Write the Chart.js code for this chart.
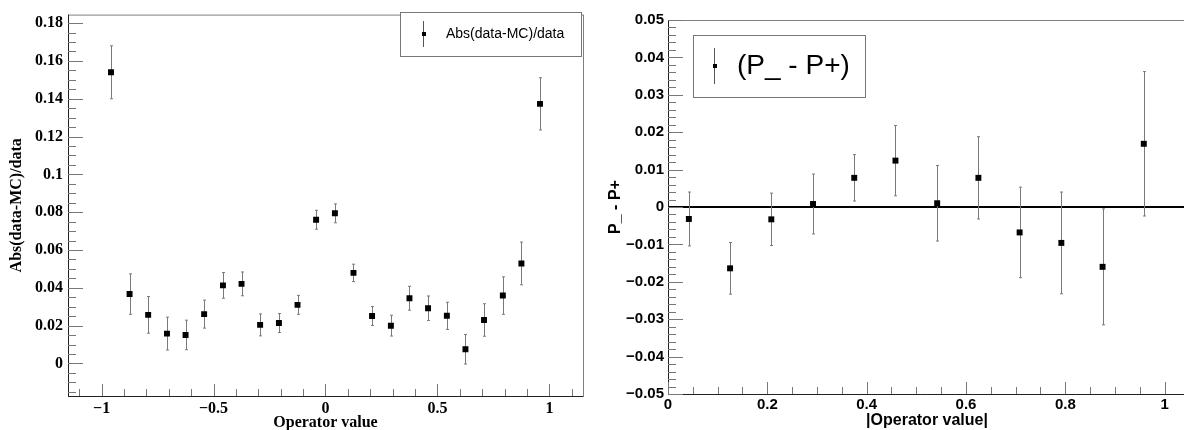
<!DOCTYPE html>
<html>
<head>
<meta charset="utf-8">
<script src="https://cdn.jsdelivr.net/npm/chart.js@4.4.1/dist/chart.umd.min.js"></script>
<style>
html, body { margin: 0; padding: 0; background: #fff; overflow: hidden; width: 1184px; height: 430px; }
#leftChart { position: absolute; left: 0; top: 0; }
#rightChart { position: absolute; left: 595px; top: 0; }
</style>
</head>
<body>
<canvas id="leftChart" width="590" height="430"></canvas>
<canvas id="rightChart" width="600" height="430"></canvas>
<script>
// left panel: Abs(data-MC)/data vs operator value
var opValues = [-0.958, -0.875, -0.792, -0.708, -0.625, -0.542, -0.458, -0.375, -0.292, -0.208, -0.125, -0.042,
                0.042, 0.125, 0.208, 0.292, 0.375, 0.458, 0.542, 0.625, 0.708, 0.792, 0.875, 0.958];
var absDiff = [0.154, 0.0367, 0.0257, 0.0158, 0.0151, 0.0261, 0.0413, 0.0421, 0.0204, 0.0214, 0.031, 0.0760,
               0.0794, 0.0479, 0.0251, 0.0200, 0.0345, 0.0292, 0.0252, 0.0075, 0.0230, 0.0359, 0.0529, 0.1373];
var absDiffErr = [0.014, 0.0107, 0.0097, 0.0087, 0.0078, 0.0074, 0.0068, 0.0063, 0.0058, 0.005, 0.005, 0.005,
                  0.005, 0.0046, 0.005, 0.0055, 0.0063, 0.0065, 0.0072, 0.0078, 0.0086, 0.0099, 0.0113, 0.0138];

// right panel: P_ - P+ vs |operator value|
var absOpValues = [0.042, 0.125, 0.208, 0.292, 0.375, 0.458, 0.542, 0.625, 0.708, 0.792, 0.875, 0.958];
var pDiff = [-0.0032, -0.0164, -0.0033, 0.0008, 0.0078, 0.0124, 0.0010, 0.0078, -0.0068, -0.0096, -0.0160, 0.0169];
var pDiffErr = [0.0072, 0.0069, 0.0070, 0.0080, 0.0062, 0.0094, 0.0101, 0.0110, 0.0121, 0.0136, 0.0155, 0.0193];

var leftXRange = [-1.15, 1.15], leftYRange = [-0.0172, 0.1845];
var rightXRange = [0, 1.043], rightYRange = [-0.05, 0.05];

var SERIF = '"Liberation Serif", "Times New Roman", serif';
var SANS = '"Liberation Sans", Arial, Helvetica, sans-serif';

function rootLabel(v) {
    var r = Math.round(v * 1e6) / 1e6;
    return r < 0 ? '\u2212' + String(-r) : String(r);
}

function points(xs, ys) {
    return xs.map(function (x, i) { return {x: x, y: ys[i]}; });
}

// ROOT-like decorations: inner ticks, frame, error bars, zero line, legend box
var rootStyle = {
    id: 'rootStyle',
    beforeDatasetsDraw: function (chart, args, o) {
        var ctx = chart.ctx, a = chart.chartArea, xs = chart.scales.x, ys = chart.scales.y;
        ctx.save();
        if (o.zeroLine) {
            var zy = Math.round(ys.getPixelForValue(0));
            ctx.strokeStyle = '#000';
            ctx.lineWidth = 2;
            ctx.beginPath();
            ctx.moveTo(a.left, zy);
            ctx.lineTo(a.right, zy);
            ctx.stroke();
        }
        chart.data.datasets.forEach(function (ds) {
            if (!ds.errors) return;
            ctx.strokeStyle = '#7a7a7a';
            ctx.lineWidth = 1;
            ds.data.forEach(function (p, i) {
                var px = Math.round(xs.getPixelForValue(p.x)) + 0.5;
                var top = ys.getPixelForValue(p.y + ds.errors[i]);
                var bot = ys.getPixelForValue(p.y - ds.errors[i]);
                ctx.beginPath();
                ctx.moveTo(px, top); ctx.lineTo(px, bot);
                ctx.moveTo(px - 1.5, top); ctx.lineTo(px + 1.5, top);
                ctx.moveTo(px - 1.5, bot); ctx.lineTo(px + 1.5, bot);
                ctx.stroke();
            });
        });
        ctx.restore();
    },
    afterDraw: function (chart, args, o) {
        var ctx = chart.ctx, a = chart.chartArea, xs = chart.scales.x, ys = chart.scales.y;
        ctx.save();
        // frame
        ctx.strokeStyle = '#808080';
        ctx.lineWidth = 1;
        ctx.strokeRect(a.left + 0.5, a.top + 0.5, a.right - a.left, a.bottom - a.top);
        ctx.strokeStyle = '#222';
        ctx.beginPath();
        ctx.moveTo(a.left + 0.5, a.top);
        ctx.lineTo(a.left + 0.5, a.bottom + 0.5);
        ctx.lineTo(a.right, a.bottom + 0.5);
        ctx.stroke();
        // ticks
        ctx.strokeStyle = '#777';
        function ticks(scale, major, minor, horiz) {
            var v = Math.ceil(scale.min / minor - 1e-6) * minor;
            for (; v <= scale.max + 1e-9; v += minor) {
                var isMajor = Math.abs(v / major - Math.round(v / major)) < 1e-6;
                var p = Math.round(scale.getPixelForValue(v)) + 0.5;
                ctx.beginPath();
                if (horiz) {
                    var len = isMajor ? 12 : 7;
                    ctx.moveTo(p, a.bottom); ctx.lineTo(p, a.bottom - len);
                } else {
                    var lenY = isMajor ? 15 : 8;
                    ctx.moveTo(a.left, p); ctx.lineTo(a.left + lenY, p);
                }
                ctx.stroke();
            }
        }
        ticks(xs, o.xTicks[0], o.xTicks[1], true);
        ticks(ys, o.yTicks[0], o.yTicks[1], false);
        // legend box
        var L = o.legend;
        ctx.fillStyle = '#fff';
        ctx.fillRect(L.x, L.y, L.w, L.h);
        ctx.strokeStyle = '#777';
        ctx.strokeRect(L.x + 0.5, L.y + 0.5, L.w, L.h);
        ctx.strokeStyle = '#555';
        ctx.beginPath();
        ctx.moveTo(L.mx + 0.5, L.my - L.bar);
        ctx.lineTo(L.mx + 0.5, L.my + L.bar);
        ctx.stroke();
        ctx.fillStyle = '#000';
        ctx.fillRect(L.mx - 1, L.my - 2, 4, 4);
        ctx.font = L.size + 'px ' + SANS;
        ctx.textBaseline = 'middle';
        ctx.fillText(L.text, L.tx, L.my);
        ctx.restore();
    }
};

Chart.defaults.color = '#000';

function makeChart(id, xs, ys, errs, cfg) {
    var ctx = document.getElementById(id).getContext('2d');
    return new Chart(ctx, {
        type: 'scatter',
        data: {
            datasets: [{
                data: points(xs, ys),
                errors: errs,
                pointStyle: 'rect',
                pointRadius: 4.2,
                pointHoverRadius: 4.2,
                backgroundColor: '#000',
                borderWidth: 0
            }]
        },
        options: {
            responsive: false,
            animation: false,
            events: [],
            layout: {padding: {top: cfg.padTop, right: cfg.padRight, left: 0, bottom: 0}},
            plugins: {
                legend: {display: false},
                tooltip: {enabled: false},
                rootStyle: cfg.deco
            },
            scales: {
                x: {
                    type: 'linear',
                    min: cfg.xRange[0], max: cfg.xRange[1],
                    grid: {display: false, drawTicks: false},
                    border: {display: false},
                    afterFit: function (s) { s.height = cfg.xHeight; },
                    ticks: {
                        stepSize: cfg.xStep, includeBounds: false, autoSkip: false, maxRotation: 0,
                        padding: cfg.xPad, font: cfg.tickFont, callback: rootLabel
                    },
                    title: {display: true, text: cfg.xTitle, font: cfg.xTitleFont, padding: {top: 0, bottom: cfg.xTitlePad}}
                },
                y: {
                    type: 'linear',
                    min: cfg.yRange[0], max: cfg.yRange[1],
                    grid: {display: false, drawTicks: false},
                    border: {display: false},
                    afterFit: function (s) { s.width = cfg.yWidth; },
                    ticks: {
                        stepSize: cfg.yStep, includeBounds: false, autoSkip: false,
                        padding: cfg.yPad, font: cfg.tickFont, callback: rootLabel
                    },
                    title: {display: true, text: cfg.yTitle, font: cfg.yTitleFont, padding: {top: cfg.yTitlePad, bottom: 0}}
                }
            }
        },
        plugins: [rootStyle]
    });
}

makeChart('leftChart', opValues, absDiff, absDiffErr, {
    padTop: 9, padRight: 7, xHeight: 34, yWidth: 68,
    xRange: leftXRange, yRange: leftYRange, xStep: 0.5, yStep: 0.02,
    xPad: 3, yPad: 5, xTitlePad: 0, yTitlePad: 9,
    tickFont: {family: SERIF, size: 16, weight: 'bold'},
    xTitleFont: {family: SERIF, size: 16, weight: 'bold', lineHeight: 0.95},
    yTitleFont: {family: SERIF, size: 16, weight: 'bold', lineHeight: 1},
    xTitle: 'Operator value', yTitle: 'Abs(data-MC)/data',
    deco: {
        xTicks: [0.5, 0.1], yTicks: [0.02, 0.005], zeroLine: false,
        legend: {x: 400, y: 12, w: 181, h: 44, mx: 423, my: 34, bar: 13, tx: 446, size: 14, text: 'Abs(data-MC)/data'}
    }
});

makeChart('rightChart', absOpValues, pDiff, pDiffErr, {
    padTop: 20, padRight: 9, xHeight: 36, yWidth: 73,
    xRange: rightXRange, yRange: rightYRange, xStep: 0.2, yStep: 0.01,
    xPad: 2, yPad: 4, xTitlePad: 1, yTitlePad: 13,
    tickFont: {family: SANS, size: 15, weight: 'bold'},
    xTitleFont: {family: SANS, size: 16, weight: 'bold', lineHeight: 1},
    yTitleFont: {family: SANS, size: 16, weight: 'bold', lineHeight: 1},
    xTitle: '|Operator value|', yTitle: 'P_ - P+',
    deco: {
        xTicks: [0.2, 0.05], yTicks: [0.01, 0.002], zeroLine: true,
        legend: {x: 98, y: 35, w: 172, h: 62, mx: 119, my: 66, bar: 18, tx: 142, size: 28, text: '(P_ - P+)'}
    }
});
</script>
</body>
</html>
